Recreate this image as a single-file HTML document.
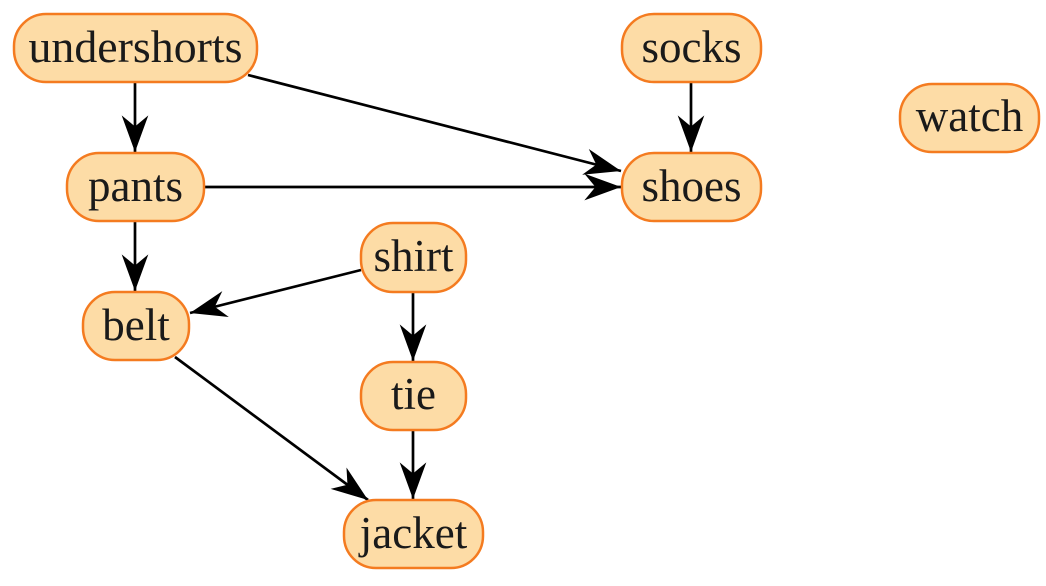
<!DOCTYPE html>
<html><head><style>html,body{margin:0;padding:0;background:#fff}</style></head>
<body>
<svg width="1046" height="581" viewBox="0 0 1046 581" xmlns="http://www.w3.org/2000/svg">
<defs>
<marker id="a" markerUnits="userSpaceOnUse" markerWidth="40" markerHeight="30" viewBox="-34 -13 36 26" refX="0" refY="0" orient="auto">
<path d="M0,0 L-33,-12 L-23,0 L-33,12 Z" fill="#000"/>
</marker>
</defs>
<g stroke="#000" stroke-width="2.7" fill="none" marker-end="url(#a)">
<line x1="135" y1="82" x2="135" y2="152"/>
<line x1="248" y1="75" x2="621" y2="171"/>
<line x1="691" y1="82" x2="691" y2="152"/>
<line x1="204" y1="187" x2="621" y2="187"/>
<line x1="135" y1="221" x2="135" y2="291"/>
<line x1="361" y1="270" x2="190" y2="313"/>
<line x1="413" y1="292" x2="413" y2="361"/>
<line x1="175" y1="357" x2="368" y2="500"/>
<line x1="413" y1="430" x2="413" y2="499"/>
</g>
<g fill="#fddca6" stroke="#f47b20" stroke-width="2.5">
<rect x="14" y="14" width="243" height="68" rx="32"/>
<rect x="622" y="14" width="139" height="68" rx="32"/>
<rect x="900" y="84" width="139" height="68" rx="32"/>
<rect x="67" y="153" width="137" height="68" rx="32"/>
<rect x="622" y="153" width="139" height="68" rx="32"/>
<rect x="361" y="223" width="105" height="69" rx="32"/>
<rect x="83" y="292" width="106" height="68" rx="32"/>
<rect x="361" y="362" width="105" height="68" rx="32"/>
<rect x="344" y="500" width="139" height="68" rx="32"/>
</g>
<g font-family="Liberation Serif, serif" font-size="45" fill="#1a1a1a" text-anchor="middle">
<text x="135.5" y="62" textLength="214" lengthAdjust="spacingAndGlyphs">undershorts</text>
<text x="691.5" y="62">socks</text>
<text x="969.5" y="131">watch</text>
<text x="135.5" y="201">pants</text>
<text x="691.5" y="201">shoes</text>
<text x="413.5" y="271">shirt</text>
<text x="136" y="340">belt</text>
<text x="413.5" y="409">tie</text>
<text x="413.5" y="548">jacket</text>
</g>
</svg>
</body></html>
